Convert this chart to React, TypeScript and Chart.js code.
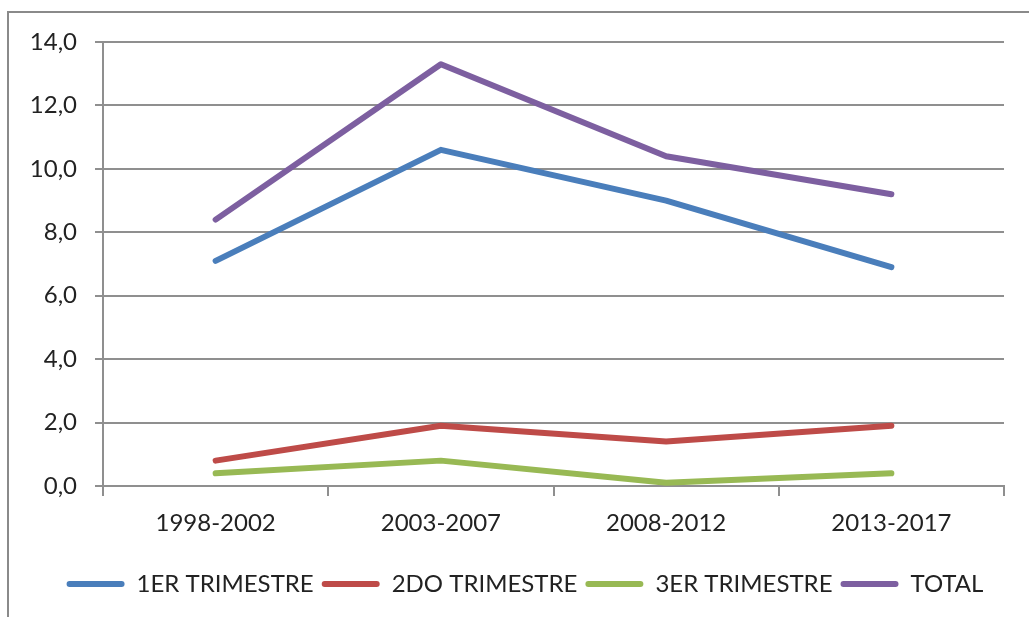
import React, { useEffect, useRef } from 'react';
import { Chart, registerables } from 'chart.js';

Chart.register(...registerables);

const categories = ['1998-2002', '2003-2007', '2008-2012', '2013-2017'];
const seriesNames = ['1ER TRIMESTRE', '2DO TRIMESTRE', '3ER TRIMESTRE', 'TOTAL'];
const primerTrimestre = [7.1, 10.6, 9.0, 6.9];
const segundoTrimestre = [0.8, 1.9, 1.4, 1.9];
const tercerTrimestre = [0.4, 0.8, 0.1, 0.4];
const totalValues = [8.4, 13.3, 10.4, 9.2];
const seriesColors = ['#4A7EBB', '#BE4B48', '#98B954', '#7D5FA0'];
const yMin = 0;
const yMax = 14;
const yStep = 2;

const FONT = 'Lato, "Liberation Sans", sans-serif';
const TEXT = '#222222';
const GRID = '#8f8f8f';

const legendShift = {
  id: 'legendShift',
  afterLayout(chart: any) {
    if (chart.legend) {
      chart.legend.left += 23;
      chart.legend.right += 23;
    }
  },
};

export default function App() {
  const ref = useRef<HTMLCanvasElement | null>(null);

  useEffect(() => {
    document.body.style.margin = '0';
    const values = [primerTrimestre, segundoTrimestre, tercerTrimestre, totalValues];
    const chart = new Chart(ref.current as HTMLCanvasElement, {
      type: 'line',
      data: {
        labels: categories,
        datasets: seriesNames.map((name, i) => ({
          label: name,
          data: values[i],
          borderColor: seriesColors[i],
          backgroundColor: seriesColors[i],
          borderWidth: 6,
          borderCapStyle: 'round',
          borderJoinStyle: 'round',
          tension: 0,
          pointRadius: 0,
          pointHoverRadius: 0,
          fill: false,
        })),
      },
      plugins: [legendShift],
      options: {
        responsive: false,
        animation: false,
        events: [],
        layout: { padding: { top: 42, right: 25, left: 0, bottom: 11 } },
        plugins: {
          tooltip: { enabled: false },
          legend: {
            display: true,
            position: 'bottom',
            labels: {
              boxWidth: 58,
              boxHeight: 6,
              padding: 8,
              color: TEXT,
              font: { family: FONT, size: 24 },
              generateLabels: (c: any) =>
                c.data.datasets.map((ds: any, i: number) => ({
                  text: ds.label,
                  fillStyle: ds.borderColor,
                  strokeStyle: ds.borderColor,
                  lineWidth: 0,
                  fontColor: TEXT,
                  borderRadius: 3,
                  hidden: false,
                  datasetIndex: i,
                })),
              useBorderRadius: true,
              borderRadius: 3,
            },
          },
        },
        scales: {
          x: {
            offset: true,
            grid: {
              offset: true,
              drawOnChartArea: false,
              drawTicks: true,
              tickLength: 10,
              color: GRID,
              lineWidth: 2,
            },
            border: { display: true, color: GRID, width: 2 },
            ticks: {
              color: TEXT,
              padding: 13,
              font: { family: FONT, size: 24 },
              maxRotation: 0,
            },
            afterFit: (s: any) => {
              s.height = 78;
            },
          },
          y: {
            min: yMin,
            max: yMax,
            grid: {
              color: GRID,
              lineWidth: 2,
              drawTicks: true,
              tickLength: 8,
            },
            border: { display: true, color: GRID, width: 2 },
            ticks: {
              stepSize: yStep,
              color: TEXT,
              padding: 18,
              font: { family: FONT, size: 24 },
              callback: (v: any) => Number(v).toFixed(1).replace('.', ','),
            },
            afterFit: (s: any) => {
              s.width = 103;
            },
          },
        },
      },
    } as any);
    return () => chart.destroy();
  }, []);

  return (
    <div
      style={{
        position: 'fixed',
        left: 0,
        top: 0,
        width: 1029,
        height: 617,
        overflow: 'hidden',
        background: '#ffffff',
      }}
    >
      <div
        style={{
          position: 'absolute',
          left: 7,
          top: 11,
          width: 1100,
          height: 700,
          border: '2px solid #8a8a8a',
          boxSizing: 'border-box',
        }}
      />
      <canvas ref={ref} width={1029} height={617} style={{ position: 'absolute', left: 0, top: 0 }} />
    </div>
  );
}
